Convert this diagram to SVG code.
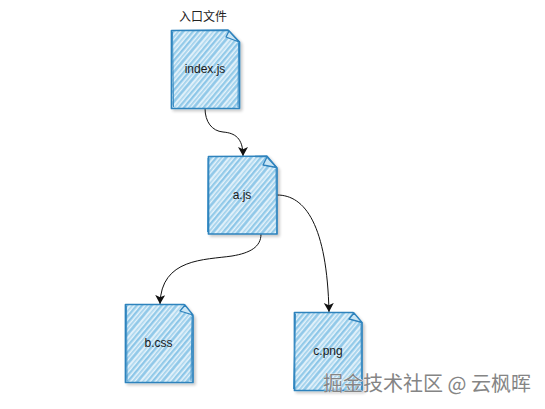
<svg xmlns="http://www.w3.org/2000/svg" width="545" height="409" viewBox="0 0 545 409">
<style>
.lbl{font-family:"Liberation Sans",Arial,sans-serif;font-size:12px;fill:#1a1a1a;text-anchor:middle}
.cjk{font-family:"Liberation Sans","Noto Sans CJK SC",sans-serif;font-size:12px;fill:#222}
.body{fill:url(#hatch);stroke:#2f83bd;stroke-width:1.7;stroke-linejoin:round;filter:url(#sh)}
.sk{fill:none;stroke:#3d8fc6;stroke-width:1}
.fold{fill:#cbe6f5;stroke:#2f83bd;stroke-width:1.3;stroke-linejoin:round}
.con{fill:none;stroke:#111;stroke-width:1;marker-end:url(#arr)}
.wm{font-family:"Noto Sans CJK SC",sans-serif;font-size:20px;fill:#858585;stroke:#fff;stroke-width:.5;paint-order:stroke}
</style>
<defs>
<pattern id="hatch" width="40" height="19" patternUnits="userSpaceOnUse" patternTransform="rotate(-50)">
<rect width="40" height="19" fill="#e6f3fb"/>
<rect y="0" width="40" height="2.4" fill="#8cc6e8"/>
<rect y="4" width="40" height="1.8" fill="#a3d2ec"/>
<rect y="7.200" width="40" height="2.600" fill="#8cc6e8"/>
<rect y="11.800" width="40" height="1.700" fill="#aad6ee"/>
<rect y="15" width="40" height="2.400" fill="#94cbe9"/>
</pattern>
<filter id="sh" x="-10%" y="-10%" width="125%" height="125%">
<feGaussianBlur in="SourceAlpha" stdDeviation="1.5"/>
<feOffset dx="1.5" dy="1.5"/>
<feComponentTransfer><feFuncA type="linear" slope=".22"/></feComponentTransfer>
<feMerge><feMergeNode/><feMergeNode in="SourceGraphic"/></feMerge>
</filter>
<marker id="arr" markerUnits="userSpaceOnUse" markerWidth="11" markerHeight="11" refX="9" refY="5" orient="auto">
<path d="M0 0L9 5L0 10L2.200 5Z" fill="#111"/>
</marker>
</defs>
<rect width="545" height="409" fill="#fff"/>
<g id="connectors">
<path class="con" d="M205 108C205 122 212 131 223 132C235 133 243 138 243 156"/>
<path class="con" d="M261 234C261 247 250 253 232 256C205 260 161 258 160 304"/>
<path class="con" d="M277 195C305 195 327 225 329 312"/>
</g>
<g id="node-index">
<path class="body" d="M171.500 30.500L228 30.200L239.500 42L239.500 108.300L171.500 108.500Z"/>
<path class="sk" d="M172.500 32L173.500 107M238.500 43L238 107"/>
<path class="fold" d="M229 31L239 42L226 37Z"/>
<text class="lbl" x="205" y="73">index.js</text>
</g>
<g id="node-a">
<path class="body" d="M208.500 156.500L267 156.200L277 168L277 234L208.500 234Z"/>
<path class="sk" d="M208 158L207.500 232M276 169L276.500 233"/>
<path class="fold" d="M267 157L276.500 167.500L263 165Z"/>
<text class="lbl" x="242" y="199">a.js</text>
</g>
<g id="node-b">
<path class="body" d="M125.500 304.500L184 304.500L193 316L193 382.500L125.500 382.500Z"/>
<path class="sk" d="M126.500 306L127 381M192 317L191 381"/>
<path class="fold" d="M185 305L193 315L180 311Z"/>
<text class="lbl" x="158.500" y="347">b.css</text>
</g>
<g id="node-c">
<path class="body" d="M294.500 312.500L353 312.500L362 323L362 390.500L294.500 390.500Z"/>
<path class="sk" d="M295.500 314L293.500 389M361 324L361.500 389"/>
<path class="fold" d="M354 313L362 322.500L349 319Z"/>
<text class="lbl" x="328" y="355">c.png</text>
</g>
<text class="cjk" x="179" y="21">入口文件</text>
<text class="wm" x="323" y="391">掘金技术社区 @ 云枫晖</text>
</svg>
